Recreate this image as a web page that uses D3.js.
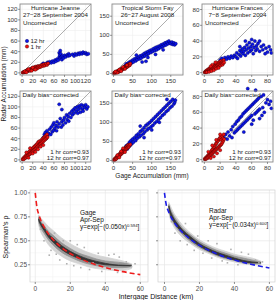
<!DOCTYPE html>
<html>
<head>
<meta charset="utf-8">
<script src="https://cdn.jsdelivr.net/npm/d3@7"></script>
<style>
body { margin: 0; background: #fff; }
text { font-family: "Liberation Sans", Arial, sans-serif; }
</style>
</head>
<body>
<svg id="chart" width="277" height="300"></svg>
<script>
// ---- top: radar vs gage accumulation (mm) ----
var jeanneRaw1h = [[1,0.5],[2,1],[3,1.5],[4,1],[5,2],[6,3],[7,2],[8,3.5],[9,4],[10,3],[11,5],[12,4],[13,6],[14,5],[15,7],[16,5],[17,8],[18,6],[19,9],[20,7],[21,10],[22,8],[23,7],[24,11],[25,9],[26,12],[27,10],[28,8],[29,11],[30,13],[31,10],[32,12],[34,11],[35,14],[36,12],[38,15],[40,13],[41,16],[43,14],[45,17],[47,15],[49,18],[10,6],[15,4],[20,10],[25,6],[5,3],[8,1],[12,7],[18,4]];
var jeanneRaw12h = [[8,3],[12,5],[15,6],[20,8],[25,10],[30,12],[35,13],[38,16],[40,18],[42,15],[45,17],[48,20],[50,18],[52,21],[55,19],[57,22],[60,20],[62,24],[64,22],[66,26],[68,24],[70,30],[70,38],[71,34],[72,28],[72,42],[73,36],[74,30],[75,25],[76,32],[78,28],[80,33],[82,30],[85,34],[87,32],[88,36],[90,33],[95,35],[98,32],[100,36],[103,34],[106,37],[108,35],[110,38],[113,36],[115,39],[118,37],[120,38],[122,35],[125,36]];
var jeanneCor1h = [[1,1],[2,3],[3,1],[4,5],[5,3],[6,7],[7,4],[8,9],[9,6],[10,12],[11,8],[12,14],[13,10],[14,16],[15,11],[16,18],[17,13],[18,20],[19,15],[20,22],[21,17],[22,24],[23,19],[24,26],[25,20],[26,28],[27,22],[28,30],[29,25],[30,33],[31,27],[32,35],[33,28],[34,30],[35,36],[36,31],[37,38],[38,33],[39,40],[40,35],[41,42],[42,37],[43,44],[44,39],[45,46],[46,41],[47,48],[48,43],[12,4],[20,12],[25,15],[30,20],[35,25],[8,14],[15,22],[40,28]];
var jeanneCor12h = [[40,42],[42,48],[44,52],[45,40],[47,55],[48,45],[50,50],[52,58],[54,48],[55,62],[57,53],[58,66],[60,56],[60,70],[62,60],[64,65],[65,55],[66,72],[68,62],[70,105],[70,68],[72,78],[74,62],[75,95],[75,72],[77,66],[78,75],[80,80],[82,70],[84,85],[85,76],[87,82],[88,73],[90,88],[92,80],[94,92],[95,85],[97,95],[98,88],[100,98],[102,92],[104,100],[106,95],[108,102],[110,98],[112,104],[114,96],[116,102],[118,99],[120,104],[122,96],[124,100],[110,90],[105,88],[115,92]];

var fayRaw1h = [[1,1],[2,0],[3,2],[4,3],[5,1],[6,4],[7,3],[8,5],[9,3],[10,6],[11,5],[12,7],[13,4],[14,8],[15,6],[16,9],[17,7],[18,10],[19,8],[20,12],[21,9],[22,13],[23,11],[24,14],[25,12],[26,15],[27,13],[28,16],[29,14],[30,18],[31,15],[32,19],[33,16],[34,20],[35,17],[36,21],[37,18],[38,22],[39,20],[40,24],[41,21],[42,25],[43,22],[44,26],[10,2],[15,10],[20,6],[25,17],[30,12],[35,22],[5,5]];
var fayRaw12h = [[30,20],[33,25],[36,22],[38,27],[40,24],[42,30],[44,26],[46,32],[48,28],[50,35],[52,30],[55,38],[58,33],[60,40],[62,36],[65,43],[68,38],[70,46],[72,40],[75,48],[78,44],[80,52],[82,46],[85,55],[88,50],[90,57],[92,52],[95,60],[98,55],[100,62],[103,58],[105,65],[108,60],[110,68],[113,62],[115,70],[118,65],[120,72],[123,68],[125,75],[128,70],[130,77],[133,73],[135,80],[138,75],[140,82],[143,78],[145,85],[148,80],[150,78],[153,82],[155,76],[158,80],[160,75],[163,78],[75,30],[85,32],[90,42],[110,50],[60,48],[130,62]];
var fayCor1h = [[1,2],[2,1],[3,4],[4,2],[5,6],[6,4],[7,8],[8,5],[9,10],[10,8],[11,12],[12,9],[13,14],[14,11],[15,16],[16,13],[17,18],[18,15],[19,21],[20,17],[21,23],[22,19],[23,25],[24,21],[25,27],[26,23],[27,29],[28,25],[29,31],[30,27],[31,33],[32,29],[33,35],[34,31],[35,37],[36,33],[37,39],[38,34],[39,41],[40,36],[42,40],[44,42],[10,14],[20,24],[30,22],[15,8],[25,32]];
var fayCor12h = [[30,32],[33,38],[36,30],[38,42],[40,36],[42,48],[44,40],[46,52],[48,44],[50,56],[52,48],[55,60],[58,52],[60,66],[62,58],[65,70],[68,62],[70,76],[72,66],[75,80],[78,70],[80,86],[82,75],[85,92],[88,80],[90,96],[92,84],[95,100],[98,88],[100,105],[103,92],[105,110],[108,98],[110,115],[113,102],[115,120],[118,108],[120,125],[123,112],[125,130],[128,118],[130,135],[133,122],[135,140],[138,128],[140,145],[143,132],[145,150],[148,138],[150,155],[153,142],[155,160],[158,148],[160,152],[162,158],[80,60],[100,80],[120,100],[70,90],[140,160]];

var francesRaw1h = [[0.5,0.5],[1,1],[1.5,0.5],[2,2],[2.5,1],[3,3],[3.5,1.5],[4,2.5],[4.5,4],[5,2],[5.5,3.5],[6,5],[6.5,2.5],[7,4],[7.5,6],[8,3],[8.5,5],[9,7],[9.5,4],[10,6],[10.5,8],[11,5],[11.5,7],[12,9],[12.5,6],[13,8],[13.5,10],[14,7],[14.5,9],[15,11],[15.5,8],[16,10],[16.5,12],[17,9],[17.5,11],[18,13],[18.5,8],[19,12],[19.5,10],[20,14],[20.5,9],[21,12],[21.5,15],[22,11],[22.5,13],[23,10],[23.5,14],[24,12],[24.5,16],[25,13],[3,0.5],[6,1],[9,2],[12,3],[15,5],[18,6],[10,10],[14,13],[8,8]];
var francesRaw12h = [[20,16],[22,18],[24,15],[26,19],[28,17],[30,20],[32,18],[34,21],[36,19],[38,22],[40,20],[41,25],[42,18],[44,23],[45,28],[46,21],[47,26],[48,30],[49,24],[50,27],[51,32],[52,22],[53,29],[54,35],[55,25],[56,31],[57,38],[58,27],[59,33],[60,29],[61,36],[62,24],[63,32],[64,40],[65,28],[66,34],[67,30],[68,37],[70,27],[72,33],[74,29],[75,35],[77,24],[78,31],[80,26],[82,33],[84,29],[85,25],[52,40],[60,42],[70,40],[45,33]];
var francesCor1h = [[0.5,1],[1,0.5],[1.5,2],[2,1],[2.5,3],[3,1.5],[3.5,4],[4,2],[4.5,5],[5,3],[5.5,6],[6,4],[6.5,8],[7,5],[7.5,9],[8,6],[8.5,10],[9,7],[9.5,12],[10,8],[10.5,13],[11,9],[11.5,15],[12,10],[12.5,16],[13,11],[13.5,18],[14,12],[14.5,20],[15,13],[15.5,21],[16,14],[16.5,23],[17,15],[17.5,24],[18,16],[18.5,26],[19,17],[19.5,27],[20,18],[20.5,29],[21,19],[21.5,25],[22,20],[22.5,30],[23,22],[23.5,27],[24,24],[24.5,32],[25,26],[5,10],[10,18],[15,25],[20,32],[8,2],[12,4],[16,8],[20,12]];
var francesCor12h = [[25,28],[27,32],[29,26],[30,35],[32,30],[34,38],[35,28],[36,42],[38,34],[39,45],[40,36],[41,48],[42,38],[43,50],[44,40],[45,53],[46,42],[47,55],[48,44],[49,58],[50,46],[51,60],[52,48],[53,62],[54,50],[55,90],[55,64],[56,52],[57,66],[58,54],[59,68],[60,56],[61,70],[62,50],[63,72],[64,58],[65,88],[65,74],[66,60],[67,76],[68,62],[69,78],[70,64],[72,80],[73,56],[74,66],[75,82],[76,60],[78,72],[80,76],[82,70],[84,74],[85,65],[60,45],[70,52],[50,35]];

var stormNames = ["Hurricane Jeanne", "Tropical Storm Fay", "Hurricane Frances"];
var stormDates = ["27\u221228 September 2004", "26\u221227 August 2008", "7\u22128 September 2004"];
var stormTicks = [[0,20,40,60,80,100,120], [0,50,100,150], [0,20,40,60,80]];
var stormDomains = [[-4,130], [-4,182], [-3,87]];
var corr1h = ["0.93", "0.93", "0.93"];
var corr12h = ["0.97", "0.97", "0.97"];

// ---- bottom: correlation vs intergage distance ----
var fitDist = [0,1,2,3,5,7.5,10,15,20,25,30,40,50,60];
var gageFit = [1,0.845,0.775,0.723,0.645,0.572,0.516,0.430,0.368,0.319,0.280,0.221,0.178,0.147];
var radarFit = [1,0.877,0.819,0.776,0.708,0.644,0.593,0.513,0.452,0.404,0.363,0.300,0.253,0.216];

var gageCloudDist = [2,3,5,7.5,10,15,20,25,30,35,40,45,50,55];
var gageOuterLo = [0.66,0.60,0.53,0.46,0.41,0.34,0.29,0.26,0.23,0.21,0.20,0.19,0.19,0.21];
var gageOuterHi = [0.77,0.74,0.70,0.65,0.61,0.53,0.47,0.42,0.38,0.35,0.33,0.31,0.29,0.26];
var gageMidLo = [0.69,0.64,0.58,0.51,0.46,0.38,0.33,0.29,0.26,0.24,0.23,0.22,0.22,0.23];
var gageMidHi = [0.75,0.71,0.66,0.60,0.56,0.48,0.42,0.37,0.34,0.31,0.29,0.28,0.27,0.25];
var gageCoreLo = [0.71,0.67,0.61,0.54,0.49,0.41,0.355,0.315,0.285,0.265,0.25,0.245,0.24,0.24];
var gageCoreHi = [0.73,0.69,0.64,0.57,0.53,0.45,0.39,0.345,0.31,0.285,0.265,0.25,0.245,0.24];
var gageStray = [[8,0.35],[9,0.40],[12,0.36],[14,0.30],[18,0.26],[22,0.24],[26,0.22],[33,0.27],[36,0.37],[42,0.35],[45,0.36],[48,0.33],[52,0.28],[57,0.26],[55,0.23],[3,0.62],[5,0.50],[28,0.43],[24,0.46],[16,0.50],[11,0.58],[38,0.18],[47,0.17],[31,0.20],[20,0.50]];

var radarCloudDist = [2.5,3,5,7.5,10,15,20,25,30,35,40,45,50,55];
var radarOuterLo = [0.81,0.75,0.66,0.59,0.54,0.47,0.41,0.37,0.33,0.30,0.28,0.26,0.25,0.25];
var radarOuterHi = [0.90,0.88,0.80,0.73,0.67,0.58,0.51,0.46,0.42,0.39,0.36,0.34,0.32,0.29];
var radarMidLo = [0.83,0.78,0.69,0.62,0.57,0.49,0.43,0.385,0.345,0.315,0.295,0.27,0.26,0.26];
var radarMidHi = [0.88,0.85,0.77,0.70,0.64,0.56,0.49,0.44,0.40,0.37,0.34,0.32,0.30,0.28];
var radarCoreLo = [0.845,0.80,0.71,0.64,0.59,0.51,0.445,0.395,0.355,0.325,0.30,0.28,0.27,0.27];
var radarCoreHi = [0.865,0.83,0.745,0.675,0.62,0.54,0.47,0.42,0.38,0.35,0.32,0.295,0.28,0.27];
var radarStray = [[6,0.58],[9,0.50],[13,0.46],[17,0.40],[22,0.37],[27,0.32],[33,0.29],[38,0.41],[44,0.38],[48,0.36],[52,0.30],[54,0.27],[56,0.28],[30,0.47],[4,0.70],[12,0.68],[19,0.55],[25,0.50],[42,0.25],[36,0.27]];

var distTicks = [0,20,40,60];
var rhoTicks = [0.25,0.50,0.75,1.00];

var svg = d3.select("#chart");

var cols = [20, 112, 202], rows = [4, 91], pw = 71, ph = 71;
var panels = [
  {c:0, r:0, red:jeanneRaw1h, blue:jeanneRaw12h},
  {c:1, r:0, red:fayRaw1h, blue:fayRaw12h},
  {c:2, r:0, red:francesRaw1h, blue:francesRaw12h},
  {c:0, r:1, red:jeanneCor1h, blue:jeanneCor12h},
  {c:1, r:1, red:fayCor1h, blue:fayCor12h},
  {c:2, r:1, red:francesCor1h, blue:francesCor12h}
];

panels.forEach(function(p) {
  var x0 = cols[p.c], y0 = rows[p.r];
  var x = d3.scaleLinear().domain(stormDomains[p.c]).range([x0, x0 + pw]);
  var y = d3.scaleLinear().domain(stormDomains[p.c]).range([y0 + ph, y0]);
  var g = svg.append("g");
  var ticks = stormTicks[p.c];

  g.selectAll(".gx").data(ticks).enter().append("line")
      .attr("x1", x).attr("x2", x).attr("y1", y0).attr("y2", y0 + ph)
      .attr("stroke", "#eeeeee").attr("stroke-width", 0.6);
  g.selectAll(".gy").data(ticks).enter().append("line")
      .attr("y1", y).attr("y2", y).attr("x1", x0).attr("x2", x0 + pw)
      .attr("stroke", "#eeeeee").attr("stroke-width", 0.6);

  g.append("line")
      .attr("x1", x0).attr("y1", y0 + ph).attr("x2", x0 + pw).attr("y2", y0)
      .attr("stroke", "#999").attr("stroke-width", 0.8);

  g.selectAll(".b").data(p.blue).enter().append("circle")
      .attr("cx", function(d) { return x(d[0]); })
      .attr("cy", function(d) { return y(d[1]); })
      .attr("r", 1.6).attr("fill", "#0a14e6").attr("stroke", "#00005a").attr("stroke-width", 0.4);
  g.selectAll(".r").data(p.red).enter().append("circle")
      .attr("cx", function(d) { return x(d[0]); })
      .attr("cy", function(d) { return y(d[1]); })
      .attr("r", 1.6).attr("fill", "#ee1111").attr("stroke", "#3a0000").attr("stroke-width", 0.4);

  g.append("rect").attr("x", x0).attr("y", y0).attr("width", pw).attr("height", ph)
      .attr("fill", "none").attr("stroke", "#8a8a8a").attr("stroke-width", 0.9);

  // ticks and labels
  g.selectAll(".tx").data(ticks).enter().append("line")
      .attr("x1", x).attr("x2", x).attr("y1", y0 + ph).attr("y2", y0 + ph + 2)
      .attr("stroke", "#555").attr("stroke-width", 0.6);
  g.selectAll(".lx").data(ticks).enter().append("text")
      .attr("x", x).attr("y", y0 + ph + 7.5)
      .attr("text-anchor", "middle").attr("font-size", 6.2).attr("fill", "#333").text(String);
  g.selectAll(".ty").data(ticks).enter().append("line")
      .attr("y1", y).attr("y2", y).attr("x1", x0 - 2).attr("x2", x0)
      .attr("stroke", "#555").attr("stroke-width", 0.6);
  g.selectAll(".ly").data(ticks).enter().append("text")
      .attr("x", x0 - 2.5).attr("y", function(d) { return y(d) + 2; })
      .attr("text-anchor", "end").attr("font-size", 6.2).attr("fill", "#333").text(String);

  if (p.r == 0) {
    g.append("text").attr("x", x0 + pw / 2).attr("y", y0 + 6)
        .attr("text-anchor", "middle").attr("font-size", 6.2).attr("fill", "#222").text(stormNames[p.c]);
    g.append("text").attr("x", x0 + pw / 2).attr("y", y0 + 12.5)
        .attr("text-anchor", "middle").attr("font-size", 6.2).attr("fill", "#222").text(stormDates[p.c]);
    g.append("text").attr("x", x0 + 3).attr("y", y0 + 21)
        .attr("font-size", 6.2).attr("fill", "#222").text("Uncorrected");
    if (p.c == 0) {
      var leg = [["#0a14e6", "#00005a", "12 hr"], ["#ee1111", "#3a0000", "1 hr"]];
      leg.forEach(function(l, i) {
        g.append("circle").attr("cx", x0 + 7).attr("cy", y0 + 37 + i * 5.5).attr("r", 1.7)
            .attr("fill", l[0]).attr("stroke", l[1]).attr("stroke-width", 0.4);
        g.append("text").attr("x", x0 + 10.5).attr("y", y0 + 39 + i * 5.5)
            .attr("font-size", 6.2).attr("fill", "#222").text(l[2]);
      });
    }
  } else {
    g.append("text").attr("x", x0 + 2.5).attr("y", y0 + 5.5)
        .attr("font-size", 6.2).attr("fill", "#222").text("Daily bias\u2212corrected");
    g.append("text").attr("x", x0 + pw - 2).attr("y", y0 + ph - 8)
        .attr("text-anchor", "end").attr("font-size", 6.2).attr("fill", "#222").text("1 hr corr=" + corr1h[p.c]);
    g.append("text").attr("x", x0 + pw - 2).attr("y", y0 + ph - 2.5)
        .attr("text-anchor", "end").attr("font-size", 6.2).attr("fill", "#222").text("12 hr corr=" + corr12h[p.c]);
  }
});

svg.append("text").attr("transform", "translate(6,84) rotate(-90)")
    .attr("text-anchor", "middle").attr("font-size", 6.5).attr("fill", "#222").text("Radar Accumulation (mm)");
svg.append("text").attr("x", 152).attr("y", 177.5)
    .attr("text-anchor", "middle").attr("font-size", 6.5).attr("fill", "#222").text("Gage Accumulation (mm)");

// ---- bottom panels ----
var yb = d3.scaleLinear().domain([0.07, 1.03]).range([282, 190]);
var bottom = [
  {x0:30, x1:148, dom:[-3,64.4], fit:gageFit, col:"#ee1c1c", name:"Gage", a:"0.050", b:"0.594",
   dist:gageCloudDist, bands:[[gageOuterLo,gageOuterHi,"#cfcfcf"],[gageMidLo,gageMidHi,"#8f8f8f"],[gageCoreLo,gageCoreHi,"#2a2a2a"]],
   stray:gageStray, tx:80, ty:215, labels:true},
  {x0:158, x1:275, dom:[-3.7,63.2], fit:radarFit, col:"#1c1ce6", name:"Radar", a:"0.034", b:"0.600",
   dist:radarCloudDist, bands:[[radarOuterLo,radarOuterHi,"#cfcfcf"],[radarMidLo,radarMidHi,"#8f8f8f"],[radarCoreLo,radarCoreHi,"#2a2a2a"]],
   stray:radarStray, tx:209, ty:213, labels:false}
];

bottom.forEach(function(b) {
  var x = d3.scaleLinear().domain(b.dom).range([b.x0, b.x1]);
  var g = svg.append("g");
  g.append("rect").attr("x", b.x0).attr("y", 190).attr("width", b.x1 - b.x0).attr("height", 92)
      .attr("fill", "#fff");
  g.selectAll(".mx").data([10,30,50]).enter().append("line")
      .attr("x1", x).attr("x2", x).attr("y1", 190).attr("y2", 282)
      .attr("stroke", "#f3f3f3").attr("stroke-width", 0.5);
  g.selectAll(".my").data([0.125,0.375,0.625,0.875]).enter().append("line")
      .attr("y1", yb).attr("y2", yb).attr("x1", b.x0).attr("x2", b.x1)
      .attr("stroke", "#f3f3f3").attr("stroke-width", 0.5);
  g.selectAll(".gx").data(distTicks).enter().append("line")
      .attr("x1", x).attr("x2", x).attr("y1", 190).attr("y2", 282)
      .attr("stroke", "#e6e6e6").attr("stroke-width", 0.7);
  g.selectAll(".gy").data(rhoTicks).enter().append("line")
      .attr("y1", yb).attr("y2", yb).attr("x1", b.x0).attr("x2", b.x1)
      .attr("stroke", "#e6e6e6").attr("stroke-width", 0.7);

  b.bands.forEach(function(band) {
    var area = d3.area()
        .curve(d3.curveMonotoneX)
        .x(function(d, i) { return x(b.dist[i]); })
        .y0(function(d, i) { return yb(band[0][i]); })
        .y1(function(d, i) { return yb(band[1][i]); });
    g.append("path").datum(b.dist).attr("d", area)
        .attr("fill", band[2]).attr("stroke", band[2]).attr("stroke-width", 0.8)
        .attr("stroke-linejoin", "round").attr("opacity", 0.9);
  });
  g.selectAll(".s").data(b.stray).enter().append("rect")
      .attr("x", function(d) { return x(d[0]) - 0.8; })
      .attr("y", function(d) { return yb(d[1]) - 0.8; })
      .attr("width", 1.6).attr("height", 1.6).attr("fill", "#b0b0b0");

  var line = d3.line().curve(d3.curveMonotoneX)
      .x(function(d, i) { return x(fitDist[i]); })
      .y(function(d) { return yb(d); });
  g.append("path").datum(b.fit).attr("d", line)
      .attr("fill", "none").attr("stroke", b.col).attr("stroke-width", 1.6)
      .attr("stroke-dasharray", "5,3");

  g.append("rect").attr("x", b.x0).attr("y", 190).attr("width", b.x1 - b.x0).attr("height", 92)
      .attr("fill", "none").attr("stroke", "#d0d0d0").attr("stroke-width", 0.7);

  g.selectAll(".tx").data(distTicks).enter().append("line")
      .attr("x1", x).attr("x2", x).attr("y1", 282).attr("y2", 284)
      .attr("stroke", "#444").attr("stroke-width", 0.6);
  g.selectAll(".lx").data(distTicks).enter().append("text")
      .attr("x", x).attr("y", 291)
      .attr("text-anchor", "middle").attr("font-size", 6.5).attr("fill", "#4d4d4d").text(String);
  g.selectAll(".ty").data(rhoTicks).enter().append("line")
      .attr("y1", yb).attr("y2", yb).attr("x1", b.x0 - 2).attr("x2", b.x0)
      .attr("stroke", "#444").attr("stroke-width", 0.6);
  if (b.labels) {
    g.selectAll(".ly").data(rhoTicks).enter().append("text")
        .attr("x", b.x0 - 3).attr("y", function(d) { return yb(d) + 2.2; })
        .attr("text-anchor", "end").attr("font-size", 6.5).attr("fill", "#4d4d4d")
        .text(function(d) { return d.toFixed(2); });
  }

  g.append("text").attr("x", b.tx).attr("y", b.ty).attr("font-size", 6.5).attr("fill", "#111").text(b.name);
  g.append("text").attr("x", b.tx).attr("y", b.ty + 7.2).attr("font-size", 6.5).attr("fill", "#111").text("Apr-Sep");
  var f = g.append("text").attr("x", b.tx).attr("y", b.ty + 14.4).attr("font-size", 6.5).attr("fill", "#111");
  f.append("tspan").text("y=exp[\u2212(" + b.a + "x)");
  f.append("tspan").attr("dy", -2.5).attr("font-size", 4.2).text(b.b);
  f.append("tspan").attr("dy", 2.5).text("]");
});

svg.append("text").attr("transform", "translate(8,237) rotate(-90)")
    .attr("text-anchor", "middle").attr("font-size", 7).attr("fill", "#111").text("Spearman's \u03c1");
svg.append("text").attr("x", 156).attr("y", 299)
    .attr("text-anchor", "middle").attr("font-size", 7).attr("fill", "#111").text("Intergage Distance (km)");
</script>
</body>
</html>
